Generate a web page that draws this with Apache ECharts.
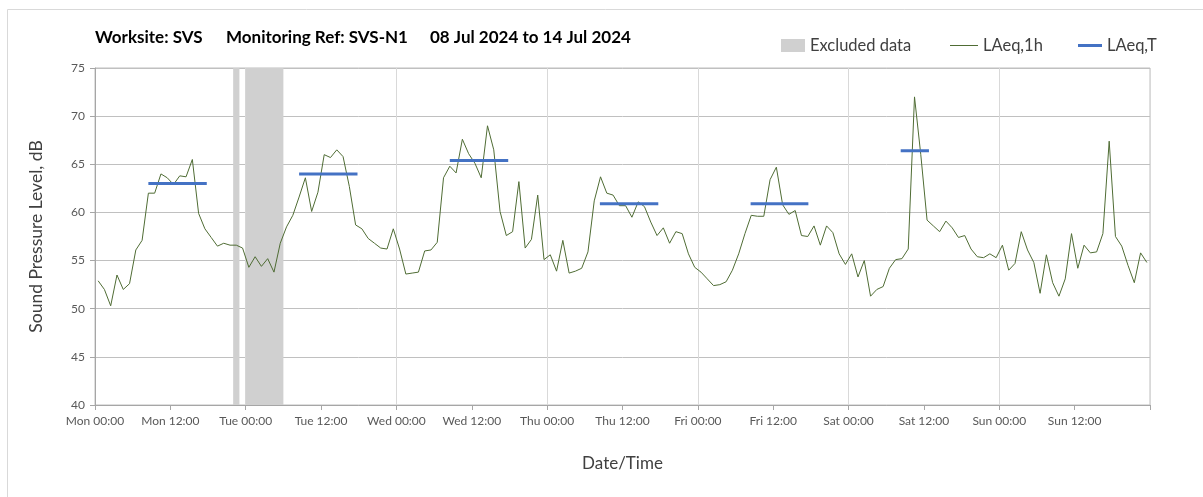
<!DOCTYPE html>
<html>
<head>
<meta charset="utf-8">
<script src="https://cdn.jsdelivr.net/npm/echarts@6/dist/echarts.min.js"></script>
<style>
html,body{margin:0;padding:0;background:#fff;}
#c{width:1203px;height:497px;}
</style>
</head>
<body>
<div id="c"></div>
<script>
// ---- Data ----
const titleParts = ['Worksite: SVS', 'Monitoring Ref: SVS-N1', '08 Jul 2024 to 14 Jul 2024'];
const xTickLabels = ['Mon 00:00','Mon 12:00','Tue 00:00','Tue 12:00','Wed 00:00','Wed 12:00','Thu 00:00',
                     'Thu 12:00','Fri 00:00','Fri 12:00','Sat 00:00','Sat 12:00','Sun 00:00','Sun 12:00'];
// hourly LAeq,1h values, one array per day (24 values each)
const monLAeq1h = [52.9,52.0,50.3,53.5,52.0,52.6,56.1,57.1,62.0,62.0,64.0,63.6,62.9,63.8,63.7,65.5,59.9,58.3,57.4,56.5,56.8,56.6,56.6,56.3];
const tueLAeq1h = [54.3,55.4,54.4,55.2,53.8,56.8,58.5,59.7,61.6,63.6,60.1,62.1,66.0,65.7,66.5,65.8,62.7,58.7,58.3,57.3,56.8,56.3,56.2,58.3];
const wedLAeq1h = [56.2,53.6,53.7,53.8,56.0,56.1,56.9,63.6,64.8,64.1,67.6,66.1,65.1,63.6,69.0,66.5,60.1,57.6,58.0,63.2,56.3,57.2,61.8,55.1];
const thuLAeq1h = [55.6,53.9,57.1,53.7,53.9,54.2,55.9,61.2,63.7,62.0,61.8,60.7,60.7,59.5,61.1,60.6,59.0,57.6,58.4,56.8,58.0,57.8,55.7,54.3];
const friLAeq1h = [53.8,53.1,52.4,52.5,52.8,54.0,55.7,57.8,59.7,59.6,59.6,63.4,64.7,60.8,59.8,60.2,57.6,57.5,58.6,56.6,58.6,57.9,55.7,54.6];
const satLAeq1h = [55.7,53.3,55.0,51.3,52.0,52.3,54.2,55.1,55.2,56.2,72.0,66.0,59.2,58.6,58.0,59.1,58.4,57.4,57.6,56.2,55.4,55.3,55.7,55.3];
const sunLAeq1h = [56.6,54.0,54.7,58.0,56.1,54.8,51.6,55.6,52.7,51.3,53.1,57.8,54.2,56.6,55.8,55.9,57.8,67.4,57.5,56.5,54.5,52.7,55.8,54.8];
// LAeq,T periods: [start hour, end hour, level dB]
const periodStart = [8.5, 32.5, 56.5, 80.4, 104.4, 128.3];
const periodEnd   = [17.8, 41.8, 65.8, 89.7, 113.6, 132.8];
const periodLevel = [63.0, 64.0, 65.4, 60.9, 60.9, 66.4];
// excluded data ranges, hours from Mon 00:00
const excludedStart = [22, 24];
const excludedEnd   = [23, 30];

// ---- Build ----
const hourly = [].concat(monLAeq1h, tueLAeq1h, wedLAeq1h, thuLAeq1h, friLAeq1h, satLAeq1h, sunLAeq1h);
const lineData = hourly.map((v, i) => [i + 0.5, v]);
const FONT = 'Lato, "Open Sans", sans-serif';
const GREEN = '#4F6C34';
const BLUE = '#4472C4';
const BAND = '#D0D0D0';

const series = [
  {
    name: 'Excluded data', type: 'line', data: [], xAxisIndex: 0,
    itemStyle: {color: BAND}, lineStyle: {color: BAND},
    silent: true,
    markArea: {
      silent: true,
      itemStyle: {color: BAND, opacity: 1},
      data: excludedStart.map((s, i) => [{xAxis: s}, {xAxis: excludedEnd[i]}])
    },
    z: 1
  },
  {
    name: 'LAeq,1h', type: 'line', data: lineData, showSymbol: false, symbol: 'none',
    lineStyle: {color: GREEN, width: 1}, itemStyle: {color: GREEN}, z: 3, animation: false
  }
];
periodLevel.forEach((lv, i) => {
  series.push({
    name: 'LAeq,T', type: 'line', symbol: 'none', showSymbol: false,
    data: [[periodStart[i], lv], [periodEnd[i], lv]],
    lineStyle: {color: BLUE, width: 3}, itemStyle: {color: BLUE}, z: 4, animation: false
  });
});

const legendText = {fontFamily: FONT, fontSize: 16.5, color: '#404040'};
const option = {
  animation: false,
  grid: {left: 95, right: 53, top: 68, bottom: 92, show: true, borderColor: '#BFBFBF', borderWidth: 1},
  legend: [
    {data: [{name: 'Excluded data', icon: 'rect'}], left: 776, top: 32, itemWidth: 24, itemHeight: 13, textStyle: legendText, selectedMode: false},
    {data: [{name: 'LAeq,1h', icon: 'rect'}], left: 945, top: 32, itemWidth: 28, itemHeight: 1, textStyle: legendText, selectedMode: false},
    {data: [{name: 'LAeq,T', icon: 'rect'}], left: 1073, top: 32, itemWidth: 24, itemHeight: 3, textStyle: legendText, selectedMode: false}
  ],
  xAxis: [
    {
      type: 'value', min: 0, max: 168, interval: 12,
      name: 'Date/Time', nameLocation: 'middle', nameGap: 50,
      nameTextStyle: {fontFamily: FONT, fontSize: 17, color: '#404040'},
      axisLine: {show: true, lineStyle: {color: '#A6A6A6'}},
      axisTick: {show: true, length: 5, lineStyle: {color: '#A6A6A6'}},
      axisLabel: {
        fontFamily: FONT, fontSize: 12, color: '#595959', margin: 10,
        formatter: v => xTickLabels[Math.round(v / 12)] || ''
      },
      splitLine: {show: false}
    },
    {
      type: 'value', min: 0, max: 168, interval: 24, position: 'bottom',
      axisLine: {show: false}, axisTick: {show: false}, axisLabel: {show: false},
      splitLine: {show: true, lineStyle: {color: '#D9D9D9', width: 1}}
    }
  ],
  yAxis: {
    type: 'value', min: 40, max: 75, interval: 5,
    name: 'Sound Pressure Level, dB', nameLocation: 'middle', nameGap: 50,
    nameTextStyle: {fontFamily: FONT, fontSize: 17.5, color: '#404040'},
    axisLine: {show: true, lineStyle: {color: '#A6A6A6'}},
    axisTick: {show: true, length: 5, lineStyle: {color: '#A6A6A6'}},
    axisLabel: {fontFamily: FONT, fontSize: 12, color: '#595959', margin: 10},
    splitLine: {show: true, lineStyle: {color: '#C0C0C0', width: 1}}
  },
  graphic: [
    {type: 'rect', left: 5, top: 7, shape: {width: 1300, height: 600}, style: {fill: 'none', stroke: '#D9D9D9', lineWidth: 1}, silent: true, z: -10},
    {type: 'text', left: 95, top: 29, style: {text: titleParts[0], font: 'bold 17px ' + FONT, fill: '#000'}},
    {type: 'text', left: 226, top: 29, style: {text: titleParts[1], font: 'bold 17px ' + FONT, fill: '#000'}},
    {type: 'text', left: 430, top: 29, style: {text: titleParts[2], font: 'bold 17px ' + FONT, fill: '#000'}}
  ],
  series: series
};
const chart = echarts.init(document.getElementById('c'), null, {renderer: 'canvas'});
chart.setOption(option);
</script>
</body>
</html>
